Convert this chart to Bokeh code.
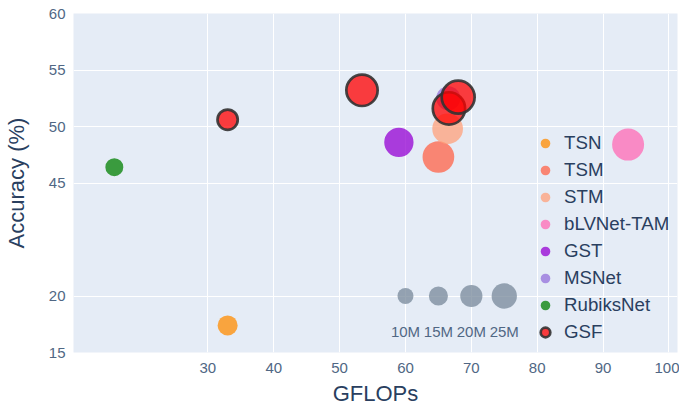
from bokeh.plotting import figure
from bokeh.models import FixedTicker, Legend, LegendItem, ColumnDataSource, Range1d
from bokeh.core.properties import value
from bokeh.embed import file_html
from bokeh.resources import INLINE

# ---------------- data ----------------
models = ["TSN", "TSM", "STM", "bLVNet-TAM", "GST", "MSNet", "RubiksNet", "GSF"]
gflops = {
    "TSN": [33.0],
    "TSM": [65.0],
    "STM": [66.4],
    "bLVNet-TAM": [93.8],
    "GST": [59.0],
    "MSNet": [66.5],
    "RubiksNet": [15.8],
    "GSF": [33.0, 53.4, 66.6, 68.0],
}
accuracy = {
    "TSN": [17.4],
    "TSM": [47.3],
    "STM": [49.8],
    "bLVNet-TAM": [48.4],
    "GST": [48.6],
    "MSNet": [52.5],
    "RubiksNet": [46.4],
    "GSF": [50.6, 53.2, 51.6, 52.6],
}
params_m = {
    "TSN": [16.5],
    "TSM": [35.3],
    "STM": [33.7],
    "bLVNet-TAM": [35.8],
    "GST": [31.5],
    "MSNet": [22.9],
    "RubiksNet": [13.2],
    "GSF": [16.9, 34.7, 36.3, 37.4],
}
colors = {
    "TSN": "darkorange",
    "TSM": "tomato",
    "STM": "lightsalmon",
    "bLVNet-TAM": "hotpink",
    "GST": "darkviolet",
    "MSNet": "mediumpurple",
    "RubiksNet": "green",
    "GSF": "red",
}
size_ref_gflops = [60, 65, 70, 75]
size_ref_acc = [20, 20, 20, 20]
size_ref_params = [10, 15, 20, 25]
size_ref_labels = ["10M", "15M", "20M", "25M"]

x_ticks = [30, 40, 50, 60, 70, 80, 90, 100]
y_tick_labels = [15, 20, 45, 50, 55, 60]


# broken y axis: values below 30 are shifted up by 15
def ty(a):
    return a + 15 if a < 30 else a


def msize(p):
    return 9.8 + 0.62 * p


FONT = "Liberation Sans"
TICK_COLOR = "#506784"
TEXT_COLOR = "#2a3f5f"

p = figure(width=679, height=408, output_backend="svg", toolbar_location=None,
           x_range=Range1d(9.6, 101.3), y_range=Range1d(30, 60),
           min_border_left=73, min_border_right=2, min_border_top=13, min_border_bottom=55)
p.background_fill_color = "#E5ECF6"
p.border_fill_color = "white"
p.outline_line_color = None

p.xaxis.ticker = FixedTicker(ticks=x_ticks)
p.yaxis.ticker = FixedTicker(ticks=[ty(v) for v in y_tick_labels])
p.yaxis.major_label_overrides = {ty(v): str(v) for v in y_tick_labels}
for ax in (p.xaxis, p.yaxis):
    ax.axis_line_color = None
    ax.major_tick_line_color = None
    ax.minor_tick_line_color = None
    ax.major_label_text_font = FONT
    ax.major_label_text_font_size = "15px"
    ax.major_label_text_color = TICK_COLOR
    ax.axis_label_text_font = FONT
    ax.axis_label_text_font_size = "22px"
    ax.axis_label_text_font_style = "normal"
    ax.axis_label_text_color = TEXT_COLOR
p.xaxis.axis_label = "GFLOPs"
p.yaxis.axis_label = "Accuracy (%)"
p.xaxis.major_label_standoff = 4
p.yaxis.major_label_standoff = 2
p.xaxis.axis_label_standoff = 5
p.yaxis.axis_label_standoff = 17
p.xgrid.grid_line_color = "white"
p.ygrid.grid_line_color = "white"
p.xgrid.grid_line_width = 1
p.ygrid.grid_line_width = 1

# size reference
src_ref = ColumnDataSource(dict(
    x=size_ref_gflops,
    y=[ty(a) for a in size_ref_acc],
    s=[msize(v) for v in size_ref_params],
    t=size_ref_labels,
))
p.scatter("x", "y", size="s", source=src_ref, fill_color="lightslategray",
          fill_alpha=0.75, line_color=None)
p.text("x", "y", text="t", source=src_ref, text_align="center", text_baseline="middle",
       y_offset=35, text_font=value(FONT), text_font_size="15px", text_color=TICK_COLOR)

items = []
for m in models:
    src = ColumnDataSource(dict(
        x=gflops[m],
        y=[ty(a) for a in accuracy[m]],
        s=[msize(v) for v in params_m[m]],
    ))
    if m == "GSF":
        r = p.scatter("x", "y", size="s", source=src, fill_color=colors[m], fill_alpha=0.75,
                      line_color="#333333", line_alpha=0.9, line_width=2.7)
    else:
        r = p.scatter("x", "y", size="s", source=src, fill_color=colors[m], fill_alpha=0.75,
                      line_color=None)
    items.append(LegendItem(label=m, renderers=[r]))

legend = Legend(items=items, location=(460, 8), orientation="vertical",
                background_fill_alpha=0, border_line_alpha=0, padding=0, margin=0,
                spacing=3, glyph_width=24, glyph_height=24, label_standoff=7,
                label_text_font=FONT, label_text_font_size="18.7px",
                label_text_color=TEXT_COLOR)
p.add_layout(legend, "center")

open("out.html", "w").write(file_html(p, INLINE))
